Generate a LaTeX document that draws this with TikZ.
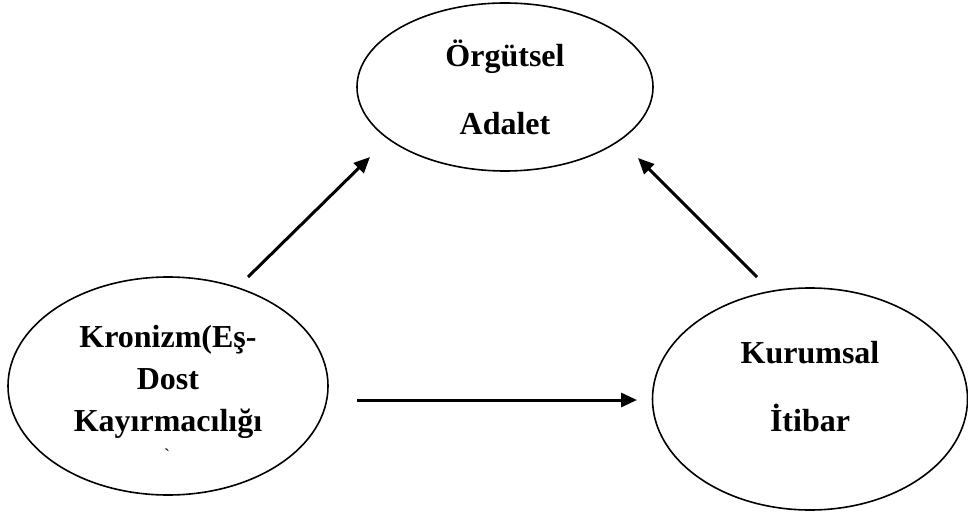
\documentclass[tikz,border=0pt]{standalone}
\usepackage{fontspec}
\setmainfont{Liberation Serif}
\newfontfamily\duzfont[Ligatures=TeXOff]{Liberation Serif}
\usetikzlibrary{arrows.meta,shapes.geometric}

\tikzset{
  concept/.style={draw, ellipse, line width=1.6pt, inner sep=0pt, align=center,
    font=\bfseries\fontsize{32}{68}\selectfont},
  flow/.style={-{Triangle[length=16pt,width=14pt]}, line width=3pt},
}

\begin{document}
\begin{tikzpicture}[x=1pt,y=-1pt]
  \useasboundingbox (0,0) rectangle (968,513);

  % kavramlar
  \node[concept, minimum width=296pt, minimum height=168pt] (adalet) at (505,87) {Örgütsel\\Adalet};
  \node[concept, minimum width=320pt, minimum height=218pt, text depth=16pt,
    font=\bfseries\fontsize{32}{42}\selectfont] (kronizm) at (168,386) {Kronizm(Eş-\\Dost\\Kayırmacılığı};
  \node[concept, minimum width=315pt, minimum height=222pt, text depth=26pt] (itibar) at (810,399) {Kurumsal\\İtibar};
  \node[inner sep=0pt, font=\duzfont\fontsize{18}{18}\selectfont] (isaret) at (167,455) {`};

  % okların uçları
  \coordinate (kronizm-ust) at (248,277);
  \coordinate (adalet-sol) at (370,157);
  \coordinate (itibar-ust) at (757,277);
  \coordinate (adalet-sag) at (638,158);
  \coordinate (kronizm-sag) at (357,400);
  \coordinate (itibar-sol) at (637,400);

  \draw[flow] (kronizm-ust) -- (adalet-sol);
  \draw[flow] (itibar-ust) -- (adalet-sag);
  \draw[flow] (kronizm-sag) -- (itibar-sol);
\end{tikzpicture}
\end{document}
